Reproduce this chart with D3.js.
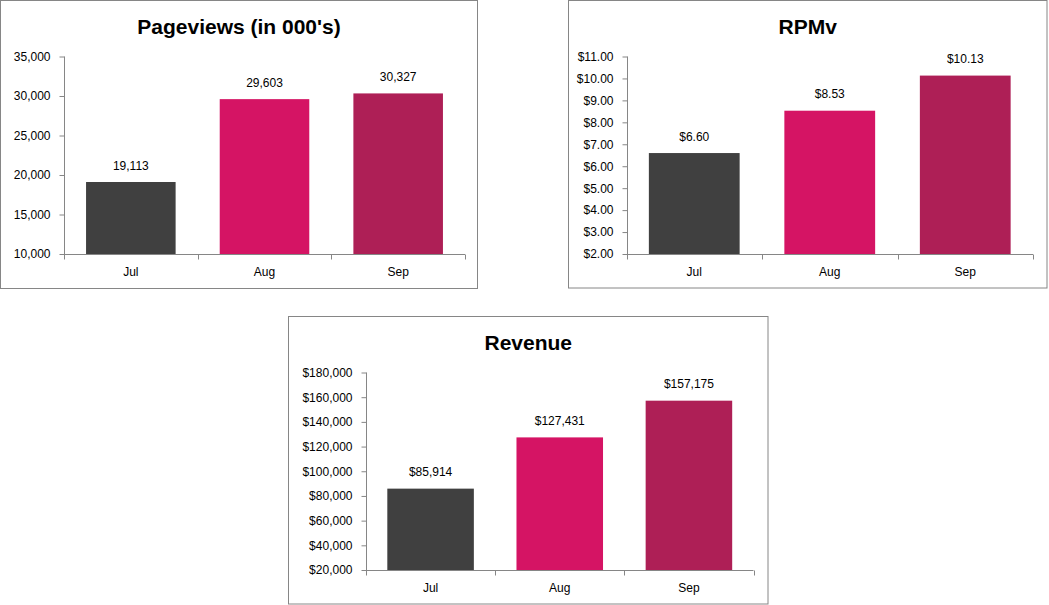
<!DOCTYPE html>
<html>
<head>
<meta charset="utf-8">
<script src="https://cdn.jsdelivr.net/npm/d3@7"></script>
<style>
  html, body { margin: 0; padding: 0; background: #fff; }
  svg { display: block; }
  text { font-family: "Liberation Sans", Arial, sans-serif; fill: #000; }
</style>
</head>
<body>
<svg id="chart" width="1049" height="605"></svg>
<script>
// ---- data ----
const months = ["Jul", "Aug", "Sep"];
const pageviews = [19113, 29603, 30327];
const rpmv = [6.60, 8.53, 10.13];
const revenue = [85914, 127431, 157175];

const pageviewsTicks = [10000, 15000, 20000, 25000, 30000, 35000];
const rpmvTicks = [2, 3, 4, 5, 6, 7, 8, 9, 10, 11];
const revenueTicks = [20000, 40000, 60000, 80000, 100000, 120000, 140000, 160000, 180000];

const titles = ["Pageviews (in 000's)", "RPMv", "Revenue"];
const barColors = ["#404040", "#D51464", "#AE1F56"];

// ---- layout ----
const svg = d3.select("#chart");
const axisColor = "#868686";

const panels = [
  { title: titles[0], values: pageviews, ticks: pageviewsTicks, fmt: d3.format(","),
    box: [0.5, 0.5, 477, 288], plot: [64, 56.5, 465, 254] },
  { title: titles[1], values: rpmv, ticks: rpmvTicks, fmt: d3.format("$.2f"),
    box: [568.5, 0.5, 478.5, 287.5], plot: [626.5, 56.5, 1033, 254] },
  { title: titles[2], values: revenue, ticks: revenueTicks, fmt: d3.format("$,"),
    box: [288.5, 316.5, 479.5, 287.5], plot: [366, 372.5, 753.5, 570] }
];

panels.forEach(p => {
  const g = svg.append("g");
  const [bx, by, bw, bh] = p.box;
  g.append("rect")
    .attr("x", bx).attr("y", by).attr("width", bw).attr("height", bh)
    .attr("fill", "#fff").attr("stroke", axisColor).attr("stroke-width", 1);

  g.append("text")
    .attr("x", bx + bw / 2).attr("y", by + 33)
    .attr("text-anchor", "middle")
    .style("font-size", "21px").style("font-weight", "bold")
    .text(p.title);

  const [x0, y0, x1, y1] = p.plot;
  const x = d3.scaleBand().domain(months).range([x0, x1]).paddingInner(0.33).paddingOuter(0.165);
  const y = d3.scaleLinear().domain(d3.extent(p.ticks)).range([y1, y0]);

  // bars
  g.selectAll("rect.bar").data(p.values).enter().append("rect")
    .attr("class", "bar")
    .attr("x", (d, i) => x(months[i]))
    .attr("width", x.bandwidth())
    .attr("y", d => y(d))
    .attr("height", d => y1 - y(d))
    .attr("fill", (d, i) => barColors[i]);

  // data labels
  g.selectAll("text.lbl").data(p.values).enter().append("text")
    .attr("class", "lbl")
    .attr("x", (d, i) => x(months[i]) + x.bandwidth() / 2)
    .attr("y", d => y(d) - 12.5)
    .attr("text-anchor", "middle")
    .style("font-size", "12px")
    .text(d => p.fmt(d));

  // y axis
  const yAxis = d3.axisLeft(y).tickValues(p.ticks).tickFormat(p.fmt).tickSizeOuter(0).tickSize(5).tickPadding(9);
  const ya = g.append("g").attr("transform", `translate(${Math.round(x0) + 0.5},0)`).call(yAxis);
  ya.select(".domain").attr("stroke", axisColor).attr("d", `M0,${y0}V${y1 + 5}`);
  ya.selectAll(".tick line").attr("stroke", axisColor);
  ya.selectAll(".tick text").style("font-size", "12px").style("font-family", "'Liberation Sans', Arial, sans-serif").attr("fill", "#000");

  // x axis
  const xAxis = d3.axisBottom(x).tickSize(0).tickPadding(13);
  const xa = g.append("g").attr("transform", `translate(0,${Math.round(y1) + 0.5})`).call(xAxis);
  xa.select(".domain").attr("stroke", axisColor).attr("d", `M${x0},0H${x1}`);
  xa.selectAll(".tick text").style("font-size", "12px").style("font-family", "'Liberation Sans', Arial, sans-serif").attr("fill", "#000");
  // category boundary ticks
  const bounds = months.map(m => x(m) - x.step() * x.paddingInner() / 2).concat([x1]);
  bounds[0] = x0;
  xa.selectAll("line.bound").data(bounds).enter().append("line")
    .attr("class", "bound")
    .attr("x1", d => Math.round(d) + 0.5).attr("x2", d => Math.round(d) + 0.5)
    .attr("y1", 0).attr("y2", 5)
    .attr("stroke", axisColor);
});
</script>
</body>
</html>
